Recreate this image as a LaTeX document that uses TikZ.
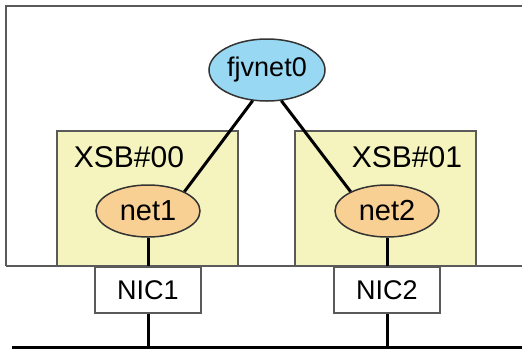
\documentclass[tikz,border=0pt]{standalone}
\usepackage{fontspec}
\setmainfont{Liberation Sans}
\usetikzlibrary{shapes.geometric}

\definecolor{xsbyellow}{RGB}{245,243,190}
\definecolor{vnetblue}{RGB}{152,216,242}
\definecolor{netorange}{RGB}{248,208,148}
\definecolor{edgegray}{RGB}{90,90,90}

\tikzset{
  frame/.style={draw=edgegray, line width=2pt},
  board/.style={draw=edgegray, line width=1.5pt, fill=xsbyellow},
  boardlabel/.style={font=\fontsize{30}{30}\selectfont, inner sep=0pt},
  vnet/.style={ellipse, draw=black!80, line width=1.5pt, fill=vnetblue, minimum width=116, minimum height=62, inner sep=0pt, font=\fontsize{27}{27}\selectfont},
  phys/.style={ellipse, draw=black!80, line width=1.5pt, fill=netorange, minimum width=104, minimum height=52, inner sep=0pt, font=\fontsize{29}{29}\selectfont},
  nic/.style={rectangle, draw=edgegray, line width=1.5pt, fill=white, minimum width=106, minimum height=46, inner sep=0pt, font=\fontsize{27}{27}\selectfont},
  wire/.style={line width=3pt, black}
}

\begin{document}
\begin{tikzpicture}[x=1pt,y=-1pt]
        \useasboundingbox (0,0) rectangle (522,349);

        % domain and the LAN under it
        \draw[frame] (522,6) -- (6,6) -- (6,266);
        \draw[wire] (12,347) -- (522,347);

        % system boards
        \draw[board] (57,131) rectangle (238,266);
        \draw[board] (295,131) rectangle (476,266);
        \draw[frame] (6,266) -- (522,266);
        \node[boardlabel] (xsb0) at (129,157) {XSB\#00};
        \node[boardlabel] (xsb1) at (407,157) {XSB\#01};

        % interfaces
        \node[vnet] (fjvnet0) at (267,70) {fjvnet0};
        \node[phys] (net1) at (148,211) {net1};
        \node[phys] (net2) at (387,211) {net2};
        \node[nic] (nic1) at (148,290) {NIC1};
        \node[nic] (nic2) at (387,290) {NIC2};

        \coordinate (lan1) at (148,347);
        \coordinate (lan2) at (387,347);

        \draw[wire] (fjvnet0.-115) -- (net1.28);
        \draw[wire] (fjvnet0.-65) -- (net2.152);
        \draw[wire] (net1) -- (nic1);
        \draw[wire] (net2) -- (nic2);
        \draw[wire] (nic1) -- (lan1);
        \draw[wire] (nic2) -- (lan2);
    \end{tikzpicture}
\end{document}
